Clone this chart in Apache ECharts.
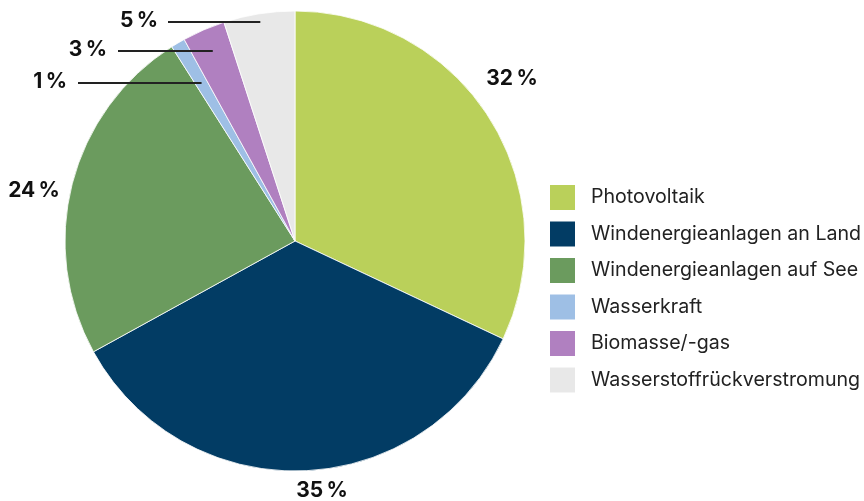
<!DOCTYPE html>
<html><head><meta charset="utf-8">
<script src="https://cdn.jsdelivr.net/npm/echarts@6/dist/echarts.min.js"></script>
<style>html,body{margin:0;padding:0;background:#fff}#c{width:864px;height:501px}</style>
</head><body><div id="c"></div>
<script>
const categories = ['Photovoltaik','Windenergieanlagen an Land','Windenergieanlagen auf See','Wasserkraft','Biomasse/-gas','Wasserstoffrückverstromung'];
const values = [32, 35, 24, 1, 3, 5];
const colors = ['#bad05a','#023c64','#6b9b5e','#9ebfe5','#b080c0','#e8e8e8'];

const CX = 295, CY = 241, R = 230;
// label anchor positions (layout only)
const labelPos = [[512,79,'center'],[322,491,'center'],[34,191,'center'],[67,82,'right'],[107,50,'right'],[158,21,'right']];
const lineStartX = [null,null,null,78,118,168];

const total = values.reduce((a,b)=>a+b,0);
const midAngles = [];
let acc = 0;
values.forEach(v => { midAngles.push((acc + v/2)/total*2*Math.PI); acc += v; });

const base = { type: 'pie', center: [CX, CY], radius: R, startAngle: 90, clockwise: true, avoidLabelOverlap: false };

const chart = echarts.init(document.getElementById('c'));
chart.setOption({
  animation: false,
  legend: {
    orient: 'vertical', left: 548, top: 183, padding: 0,
    itemWidth: 27, itemHeight: 27, itemGap: 7.5, icon: 'rect',
    selectedMode: false,
    textStyle: { fontFamily: 'Inter', fontSize: 19.6, lineHeight: 20, color: '#222', padding: [0,0,0,10] },
    data: categories
  },
  series: [
    Object.assign({}, base, {
      z: 2,
      itemStyle: { borderColor: '#fff', borderWidth: 0.8 },
      label: { show: false }, labelLine: { show: false },
      data: categories.map((n,i)=>({ name: n, value: values[i], itemStyle: { color: colors[i] } }))
    }),
    Object.assign({}, base, {
      z: 5, silent: true,
      itemStyle: { color: 'rgba(0,0,0,0)', borderWidth: 0 },
      label: {
        show: true, formatter: p => p.value + '\u202F%',
        fontFamily: 'Inter', fontWeight: 'bold', fontSize: 21, color: '#111'
      },
      labelLine: { show: true, lineStyle: { color: '#222', width: 2.2 } },
      data: categories.map((n,i)=>({
        name: n + ' ', value: values[i],
        labelLine: { show: lineStartX[i] !== null }
      })),
      labelLayout: function (params) {
        const i = params.dataIndex;
        const p = labelPos[i];
        const out = { x: p[0], y: p[1], align: p[2], verticalAlign: 'middle' };
        if (lineStartX[i] !== null) {
          const a = midAngles[i];
          const y = p[1] + 1;
          const r = (CY - y) / Math.cos(a);
          const xe = CX + r * Math.sin(a);
          out.labelLinePoints = [[lineStartX[i], y], [(lineStartX[i]+xe)/2, y], [xe, y]];
        }
        return out;
      }
    })
  ]
});
</script></body></html>
